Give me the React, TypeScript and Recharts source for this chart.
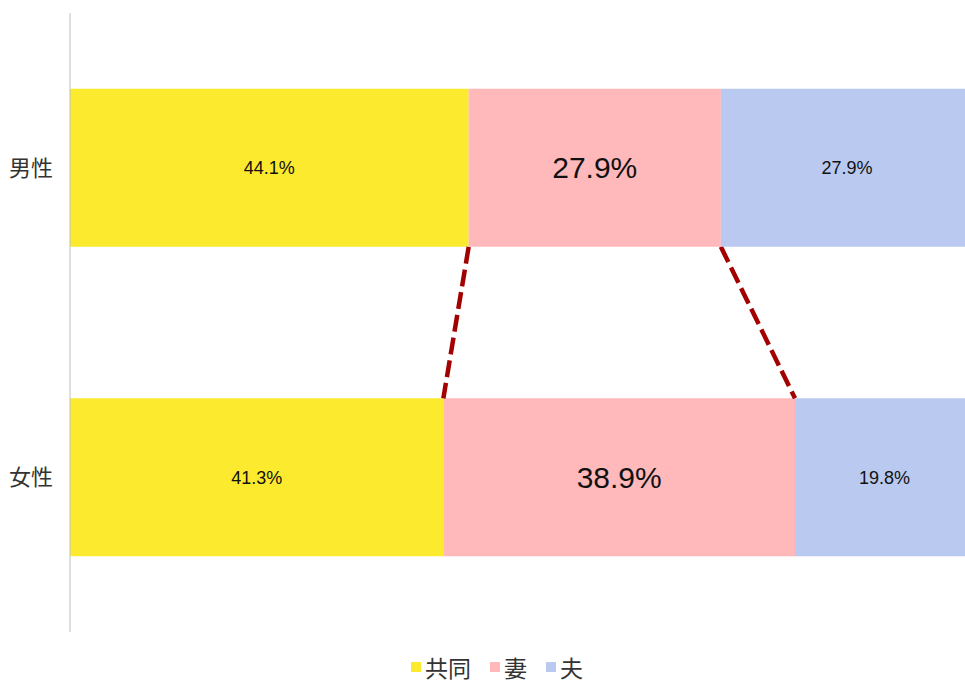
import React from 'react';
import { BarChart, Bar, XAxis, YAxis, Legend, LabelList, Rectangle } from 'recharts';

// ---- data ----
const categories = ['男性', '女性'];
const seriesNames = ['共同', '妻', '夫'];
const kyodo = [44.1, 41.3];
const tsuma = [27.9, 38.9];
const otto = [27.9, 19.8];

// ---- style ----
const seriesColors = ['#FCEA2F', '#FFB9BA', '#B9C9EF'];
const CJK = '"Noto Sans CJK JP", "Noto Sans", sans-serif';
const LATIN = '"Liberation Sans", Arial, sans-serif';
const CONNECTOR = { stroke: '#A30000', strokeWidth: 4.5, strokeDasharray: '17 6' };

const data = categories.map((name, i) => ({
  name,
  kyodo: kyodo[i],
  tsuma: tsuma[i],
  otto: otto[i],
}));

const fmt = (v: any) => `${Number(v).toFixed(1)}%`;

// geometry of the 妻 bars as laid out by recharts, used to draw the connectors
const tsumaGeom: Record<string, { x: number; y: number; width: number; height: number }> = {};

const TsumaShape = (props: any) => {
  const { x, y, width, height, payload, fill } = props;
  const name = payload && payload.name;
  if (name) tsumaGeom[name] = { x, y, width, height };
  const upper = tsumaGeom[categories[0]];
  const drawConnectors = name === categories[1] && upper;
  return (
    <g>
      <Rectangle x={x} y={y} width={width} height={height} fill={fill} />
      {drawConnectors && (
        <g>
          <line x1={upper.x} y1={upper.y + upper.height} x2={x} y2={y} {...CONNECTOR} />
          <line
            x1={upper.x + upper.width}
            y1={upper.y + upper.height}
            x2={x + width}
            y2={y}
            {...CONNECTOR}
          />
        </g>
      )}
    </g>
  );
};

const renderLegend = () => (
  <div
    style={{
      height: 50,
      boxSizing: 'border-box',
      paddingTop: 19,
      paddingLeft: 20,
      display: 'flex',
      justifyContent: 'center',
      alignItems: 'center',
      fontFamily: CJK,
      fontSize: 23,
      color: '#333',
      lineHeight: '28px',
    }}
  >
    {seriesNames.map((n, i) => (
      <span
        key={n}
        style={{
          display: 'inline-flex',
          alignItems: 'center',
          height: 28,
          marginRight: i < seriesNames.length - 1 ? 19 : 0,
        }}
      >
        <span
          style={{
            display: 'inline-block',
            width: 10,
            height: 10,
            background: seriesColors[i],
            marginRight: 4,
          }}
        />
        <span style={{ display: 'inline-block', height: 28, lineHeight: '28px' }}>{n}</span>
      </span>
    ))}
  </div>
);

export default function App() {
  return (
    <div
      style={{
        position: 'fixed',
        left: 0,
        top: 0,
        width: 965,
        height: 682,
        overflow: 'hidden',
        background: '#fff',
        fontFamily: CJK,
      }}
    >
      <BarChart
        width={974}
        height={682}
        data={data}
        layout="vertical"
        margin={{ top: 13, right: 0, bottom: 0, left: 0 }}
        barCategoryGap="24.5%"
      >
        <XAxis type="number" domain={[0, 100]} hide />
        <YAxis
          type="category"
          dataKey="name"
          width={70}
          tickLine={false}
          tickSize={0}
          tickMargin={17}
          axisLine={{ stroke: '#BFBFBF', strokeWidth: 1 }}
          tick={{ fontSize: 22, fill: '#333', fontFamily: CJK }}
        />
        <Bar dataKey="kyodo" name={seriesNames[0]} stackId="a" fill={seriesColors[0]} isAnimationActive={false}>
          <LabelList dataKey="kyodo" position="center" formatter={fmt} fill="#111" fontSize={18} fontFamily={LATIN} />
        </Bar>
        <Bar
          dataKey="tsuma"
          name={seriesNames[1]}
          stackId="a"
          fill={seriesColors[1]}
          shape={TsumaShape}
          isAnimationActive={false}
        >
          <LabelList dataKey="tsuma" position="center" formatter={fmt} fill="#111" fontSize={30} fontFamily={LATIN} />
        </Bar>
        <Bar dataKey="otto" name={seriesNames[2]} stackId="a" fill={seriesColors[2]} isAnimationActive={false}>
          <LabelList dataKey="otto" position="center" formatter={fmt} fill="#111" fontSize={18} fontFamily={LATIN} />
        </Bar>
        <Legend verticalAlign="bottom" content={renderLegend} />
      </BarChart>
    </div>
  );
}
